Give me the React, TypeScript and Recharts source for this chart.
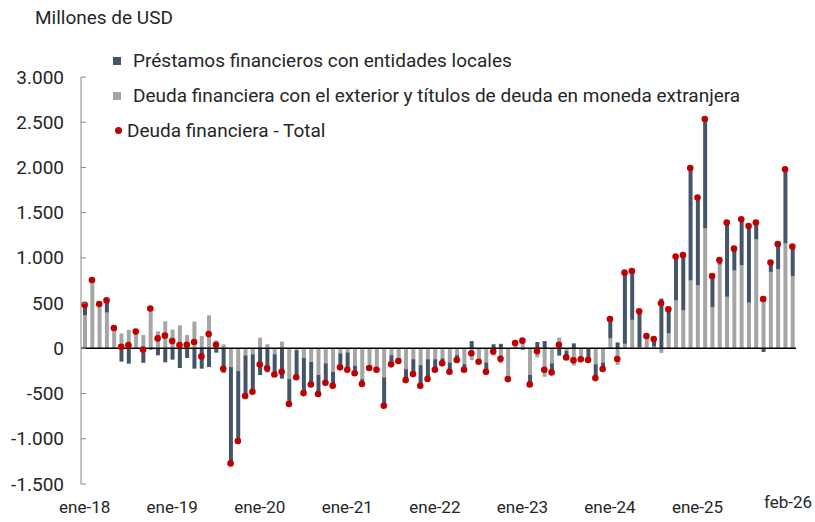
import React from 'react';
import { ComposedChart, Bar, Line, XAxis, YAxis, ReferenceLine } from 'recharts';

// meses ene-18 .. feb-26
const years = ['18', '19', '20', '21', '22', '23', '24', '25', '26'];
const monthNames = ['ene', 'feb', 'mar', 'abr', 'may', 'jun', 'jul', 'ago', 'sep', 'oct', 'nov', 'dic'];
const months: string[] = [];
years.forEach(y => monthNames.forEach(m => months.push(`${m}-${y}`)));
months.splice(98);

// Deuda financiera con el exterior y títulos de deuda en moneda extranjera
const externa = [
  365, 755, 490, 395, 225, 165, 205, 185, 147, 455, 188, 299,
  207, 254, 147, 295, 136, 365, 88, 44, -207, -251, -77, -65,
  118, 45, -65, 75, -340, -20, -105, -150, -295, -165, -260, -55,
  -45, -190, -340, -218, -240, -320, -75, -140, -230, -120, -185, -120,
  -120, -110, -155, -75, -175, -130, -148, -155, -80, -165, -340, 55,
  100, -295, -100, -315, -165, 120, -30, -190, -120, -5, -175, -155,
  110, -185, 50, 315, 15, 100, 20, -50, 165, 530, 420, 750,
  700, 1325, 455, 925, 570, 860, 920, 505, 1205, 580, 845, 875,
  1160, 800,
];

// Préstamos financieros con entidades locales
const locales = [
  115, 0, 0, 135, 0, -147, -170, 0, -160, -15, -77, -155,
  -125, -218, -107, -225, -225, -207, -48, -270, -1065, -774, -450, -415,
  -296, -265, -225, -335, -275, -300, -390, -250, -210, -215, -155, -155,
  -190, -85, -55, 0, 0, -315, -105, 0, -120, -165, -230, -220,
  -118, -55, -105, -55, -60, 80, 0, -105, 45, 50, 0, 0,
  -15, -105, 70, 80, -100, -80, -70, 55, 0, -125, -150, -75,
  215, 65, 790, 540, 395, 35, 80, 550, 265, 485, 610, 1245,
  965, 1210, 345, 50, 820, 240, 505, 850, 185, -40, 105, 280,
  820, 325,
];

// Deuda financiera - Total
const total = [
  480, 755, 490, 530, 225, 18, 35, 185, -13, 440, 110, 140,
  80, 36, 40, 70, -89, 158, 40, -226, -1272, -1025, -527, -480,
  -178, -220, -290, -260, -615, -320, -495, -400, -505, -380, -415, -210,
  -236, -276, -395, -218, -236, -635, -177, -140, -351, -285, -415, -339,
  -236, -166, -259, -129, -236, -55, -148, -259, -35, -115, -340, 59,
  85, -399, -33, -236, -266, 40, -100, -133, -120, -129, -329, -229,
  324, -118, 837, 855, 409, 136, 103, 498, 431, 1014, 1032, 1994,
  1667, 2536, 800, 977, 1390, 1102, 1427, 1353, 1390, 545, 948, 1154,
  1980, 1125,
];

const xTicks = ['ene-18', 'ene-19', 'ene-20', 'ene-21', 'ene-22', 'ene-23', 'ene-24', 'ene-25', 'feb-26'];
const yTicks = [-1500, -1000, -500, 0, 500, 1000, 1500, 2000, 2500, 3000];

const legendItems = [
  { name: 'Préstamos financieros con entidades locales', color: '#44546A', shape: 'square' },
  { name: 'Deuda financiera con el exterior y títulos de deuda en moneda extranjera', color: '#A5A5A5', shape: 'square' },
  { name: 'Deuda financiera - Total', color: '#C00000', shape: 'dot' },
];

const data = months.map((m, i) => ({
  month: m,
  externa: externa[i],
  locales: locales[i],
  total: total[i],
}));

const FONT = 'Roboto, sans-serif';
const AXIS_X = 81;

const fmt = (v: number) => {
  const s = Math.abs(v).toString().replace(/\B(?=(\d{3})+(?!\d))/g, '.');
  return v < 0 ? `-${s}` : s;
};

const YTick = (props: any) => {
  const { y, payload } = props;
  return (
    <g>
      <line x1={AXIS_X} x2={AXIS_X + 5} y1={y} y2={y} stroke="#868686" />
      <text x={64} y={y} dy={6.5} textAnchor="end" fontSize={19} fill="#262626" fontFamily={FONT}>
        {fmt(payload.value)}
      </text>
    </g>
  );
};

const XTick = (props: any) => {
  const { x, y, payload } = props;
  const last = payload.value === 'feb-26';
  // la última etiqueta va un poco más arriba y alineada al borde derecho
  return (
    <text
      x={last ? 812 : x}
      y={y}
      dy={last ? 16 : 21}
      textAnchor={last ? 'end' : 'middle'}
      fontSize={17}
      fill="#262626"
      fontFamily={FONT}
    >
      {payload.value}
    </text>
  );
};

const ChartLegend = () => (
  <div style={{ position: 'absolute', left: 108, top: 43, fontFamily: FONT, fontSize: 19, color: '#262626' }}>
    {legendItems.map(item => (
      <div key={item.name} style={{ display: 'flex', alignItems: 'center', height: 35, whiteSpace: 'nowrap' }}>
        {item.shape === 'square' ? (
          <span style={{ width: 8, height: 8, background: item.color, marginLeft: 5, marginRight: 12 }} />
        ) : (
          <span style={{ width: 7, height: 7, borderRadius: '50%', background: item.color, marginLeft: 7, marginRight: 5 }} />
        )}
        <span>{item.name}</span>
      </div>
    ))}
  </div>
);

export default function App() {
  return (
    <div style={{ position: 'absolute', left: 0, top: 0, width: 815, height: 522, background: '#fff' }}>
      <div style={{ position: 'absolute', left: 35, top: 6, fontFamily: FONT, fontSize: 19, color: '#262626' }}>
        Millones de USD
      </div>
      <ComposedChart
        width={815}
        height={522}
        data={data}
        stackOffset="sign"
        margin={{ top: 77, right: 19, bottom: 0, left: 0 }}
      >
        <XAxis
          dataKey="month"
          ticks={xTicks}
          interval={0}
          axisLine={false}
          tickLine={false}
          height={38}
          tick={<XTick />}
        />
        <YAxis
          domain={[-1500, 3000]}
          ticks={yTicks}
          width={81}
          axisLine={{ stroke: '#868686' }}
          tickLine={false}
          tick={<YTick />}
        />
        <Bar dataKey="externa" stackId="a" fill="#A5A5A5" barSize={4} isAnimationActive={false} />
        <Bar dataKey="locales" stackId="a" fill="#44546A" barSize={4} isAnimationActive={false} />
        <ReferenceLine y={0} stroke="#000" strokeWidth={1.5} />
        <Line
          dataKey="total"
          stroke="none"
          dot={{ r: 3.3, fill: '#C00000', stroke: 'none' }}
          activeDot={false}
          isAnimationActive={false}
        />
      </ComposedChart>
      <ChartLegend />
    </div>
  );
}
